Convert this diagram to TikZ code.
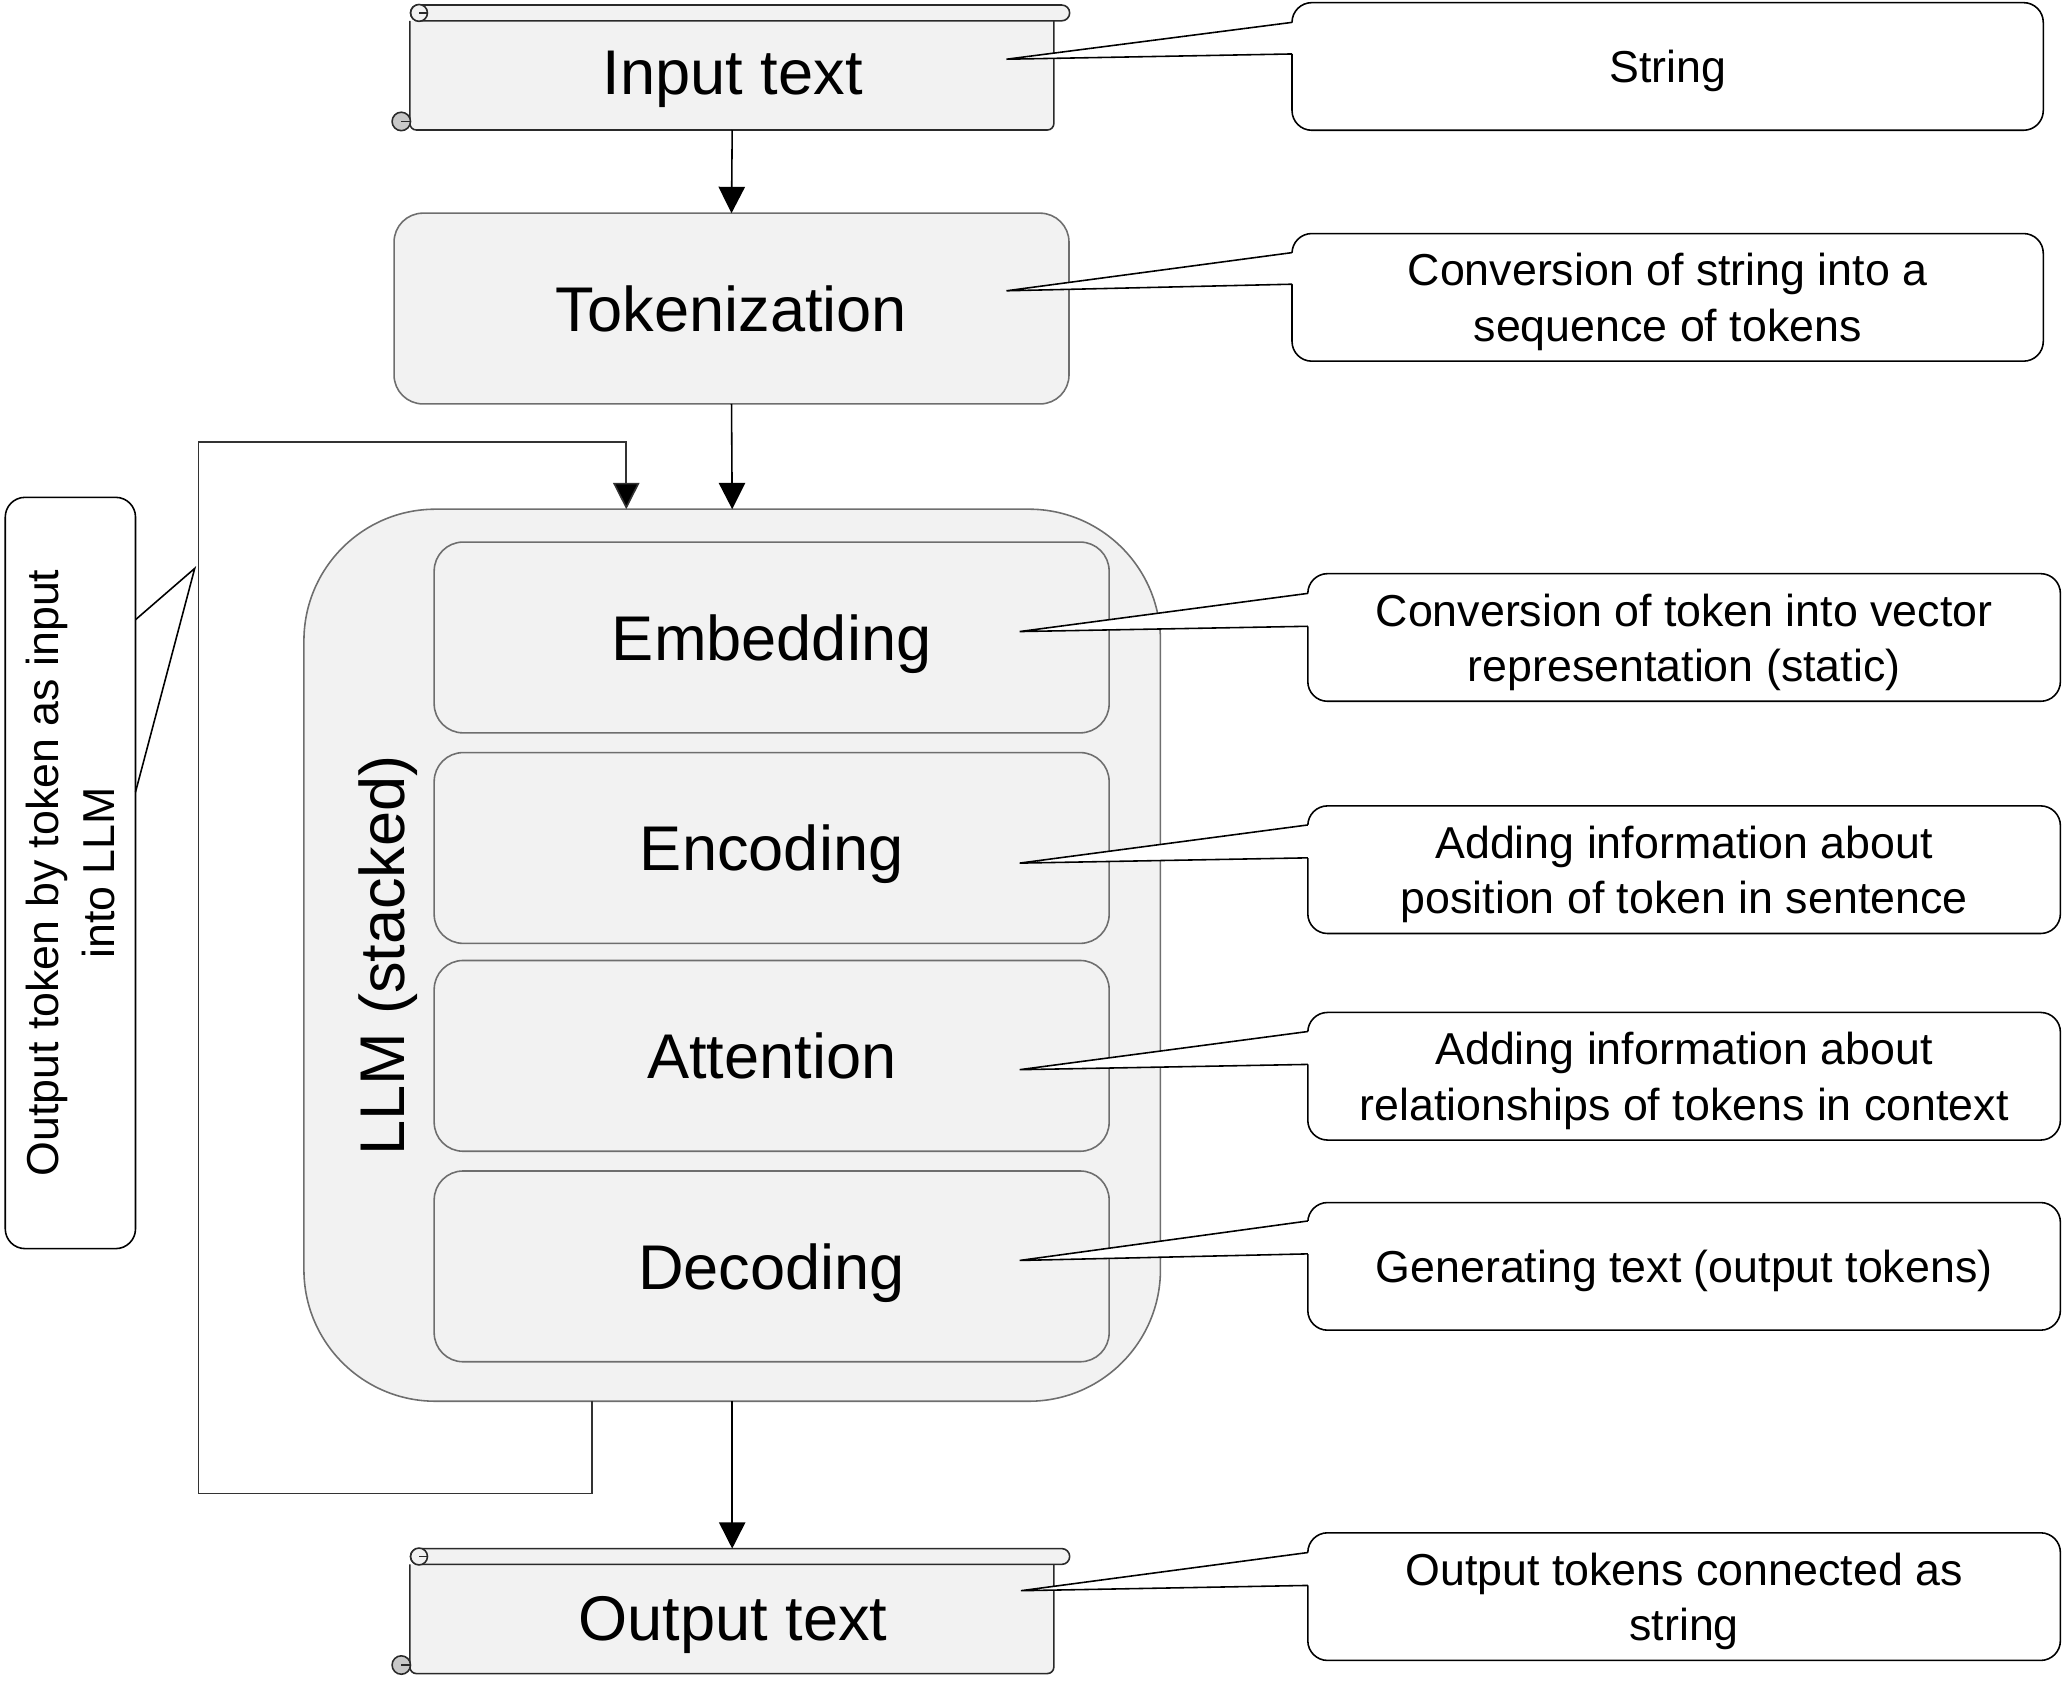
\documentclass[tikz,border=0pt]{standalone}
\usepackage{fontspec}
\setmainfont{Liberation Sans}
\usetikzlibrary{arrows.meta,calc}
\definecolor{boxfill}{HTML}{F2F2F2}
\definecolor{boxline}{HTML}{6E6E6E}
\definecolor{curlfill}{HTML}{C8C8C8}
\definecolor{scrollcol}{HTML}{2A2A2A}
\definecolor{loopcol}{HTML}{333333}
\newcommand\myscroll[2]{%
  \draw[scrollline, fill=boxfill, rounded corners=2.5pt] (311.5,{#1+12}) -- (311.5,#2) -- (801,#2) -- (801,{#1+12});
  \draw[scrollline, fill=boxfill, rounded corners=3pt] (312,#1) rectangle (813,{#1+12});
  \draw[scrollline, fill=boxfill] (318.5,{#1+6}) circle[radius=3.2pt];
  \draw[scrollline] (318.5,{#1+6}) -- (325,{#1+6});
  \draw[scrollline, fill=curlfill] (305,{#2-6.5}) circle[radius=3.5pt];
  \draw[scrollline] (305,{#2-6.5}) -- (311.5,{#2-6.5});
}
\newcommand\callptr[4]{%
  \fill[white] ({#1+1.5},#2) -- (#4) -- ({#1+1.5},#3) -- cycle;
  \draw[line width=0.6pt] (#1,#2) -- (#4) -- (#1,#3);
}
\begin{document}
\begin{tikzpicture}[x=0.5pt,y=-0.5pt,
  scrollline/.style={draw=scrollcol, line width=0.6pt},
  frame/.style={draw=none, minimum width=256.5pt, minimum height=47.5pt, inner sep=0pt, outer sep=0pt},
  maintext/.style={font=\fontsize{24}{29}\selectfont, inner sep=0pt, text depth=0pt},
  procbox/.style={draw=boxline, fill=boxfill, line width=0.6pt, rounded corners=11pt,
     minimum width=256.5pt, minimum height=72.5pt, inner sep=0pt, outer sep=0pt,
     font=\fontsize{24}{29}\selectfont, text depth=0pt},
  llmbox/.style={draw=boxline, fill=boxfill, line width=0.6pt, rounded corners=50pt,
     minimum width=325.5pt, minimum height=339pt, inner sep=0pt, outer sep=0pt},
  callbox/.style={draw=black, fill=white, line width=0.6pt, rounded corners=7.5pt,
     minimum width=285.5pt, minimum height=48.5pt, inner sep=0pt, outer sep=0pt,
     align=center, font=\fontsize{17}{21}\selectfont, text depth=0pt},
  arr/.style={-{Triangle[length=10pt,width=10pt,fill=black]}, line width=0.6pt, draw=black},
]
\useasboundingbox (0,0) rectangle (1568,1287);

% input scroll
\myscroll{3.8}{98.8}
\node[frame] (in) at (556.5,51.3) {};
\node[maintext] (intext) at (557,55) {Input text};

% tokenization
\node[procbox] (tok) at (556,234.5) {Tokenization};

% LLM
\node[llmbox] (llm) at (556.5,726) {};
\node[font=\fontsize{24}{29}\selectfont, inner sep=0pt, rotate=90] (llmlabel) at (295,726) {LLM (stacked)};
\node[procbox] (emb) at (586.5,484.5) {Embedding};
\node[procbox] (enc) at (586.5,644.5) {Encoding};
\node[procbox] (att) at (586.5,802.5) {Attention};
\node[procbox] (dec) at (586.5,962.5) {Decoding};

% output scroll
\myscroll{1177}{1272}
\node[frame] (out) at (556.5,1224.5) {};
\node[maintext] (outtext) at (557,1230) {Output text};

% arrows
\draw[arr] (in.south) -- (tok.north);
\draw[arr] (tok.south) -- (llm.north);
\draw[arr] (llm.south) -- (out.north);
\coordinate (lx) at (450,0);
\coordinate (lx2) at (476,0);
\coordinate (lb) at (151,1135);
\coordinate (lt) at (151,336);
\draw[arr, draw=loopcol] (llm.south -| lx) |- (lb) -- (lt) -| (llm.north -| lx2);

% callouts
\node[callbox] (c1) at (1267.5,50.5) {String};
\coordinate (t1) at (765,45);
\callptr{982}{17}{41}{t1}
\node[callbox] (c2) at (1267.5,226) {Conversion of string into a\\sequence of tokens};
\coordinate (t2) at (765,221);
\callptr{982}{192}{216}{t2}
\node[callbox, minimum width=286pt] (c3) at (1280,484.5) {Conversion of token into vector\\representation (static)};
\coordinate (t3) at (775,480);
\callptr{994}{451}{476}{t3}
\node[callbox, minimum width=286pt] (c4) at (1280,661) {Adding information about\\position of token in sentence};
\coordinate (t4) at (775,656);
\callptr{994}{627}{652}{t4}
\node[callbox, minimum width=286pt] (c5) at (1280,818) {Adding information about\\relationships of tokens in context};
\coordinate (t5) at (775,813);
\callptr{994}{784}{809}{t5}
\node[callbox, minimum width=286pt] (c6) at (1280,962.5) {Generating text (output tokens)};
\coordinate (t6) at (775,958);
\callptr{994}{928}{953}{t6}
\node[callbox, minimum width=286pt] (c7) at (1280,1213.5) {Output tokens connected as\\string};
\coordinate (t7) at (776,1209);
\callptr{994}{1180}{1205}{t7}

% left callout
\node[callbox, text depth=, rotate=90, minimum width=285.5pt, minimum height=49.5pt] (c8) at (53.5,663.5) {Output token by token as input\\into LLM};
\coordinate (t8) at (148,432);
\callptr{103}{471}{602}{t8}
\end{tikzpicture}
\end{document}
